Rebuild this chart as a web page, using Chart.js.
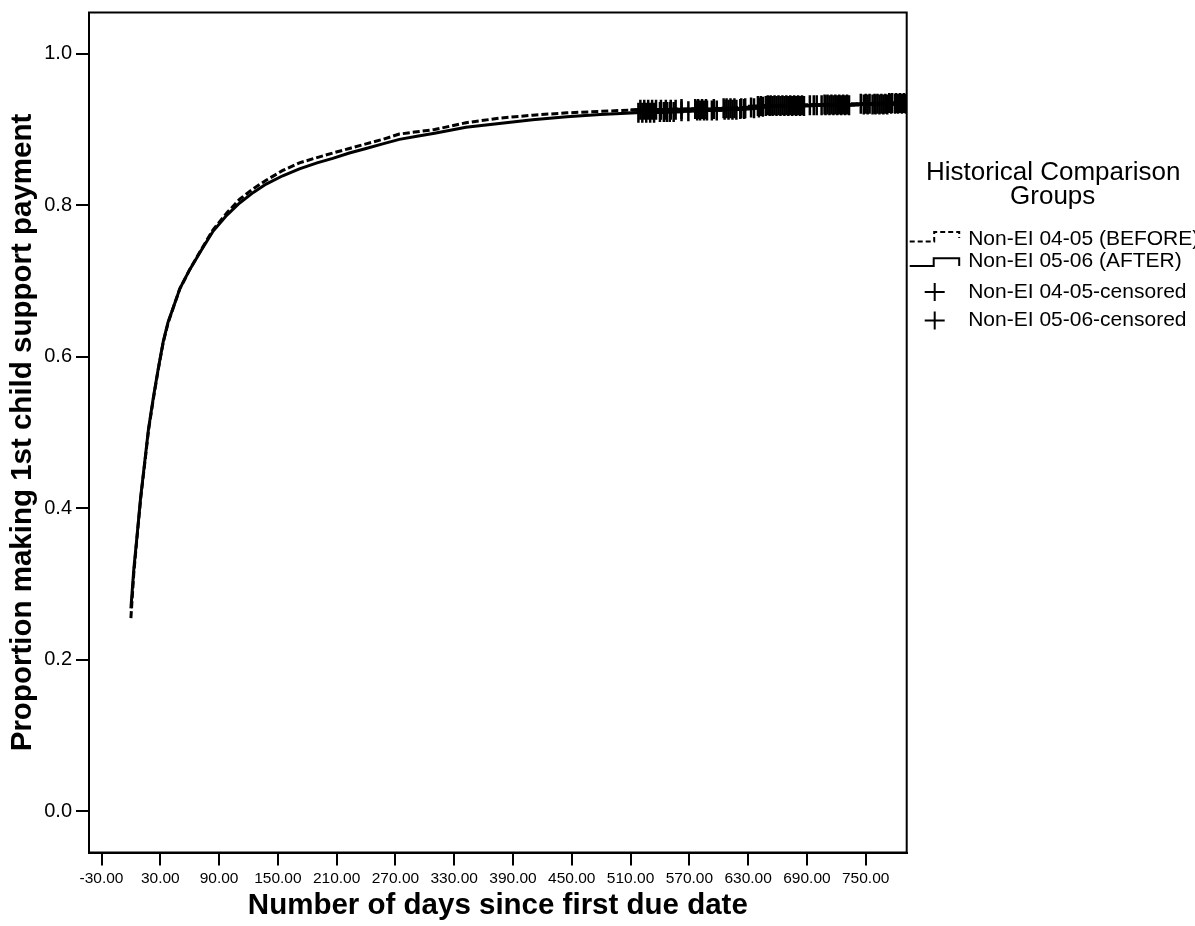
<!DOCTYPE html>
<html><head><meta charset="utf-8">
<script src="https://cdn.jsdelivr.net/npm/chart.js@4"></script>
<style>html,body{margin:0;padding:0;background:#fff;}#wrap{width:1195px;height:926px;}</style>
</head><body><div id="wrap"><canvas id="c" width="1195" height="926"></canvas></div>
<script>
const xTicks = [-30, 30, 90, 150, 210, 270, 330, 390, 450, 510, 570, 630, 690, 750];
const yTicks = [0, 0.2, 0.4, 0.6, 0.8, 1.0];

const seriesLabels = ['Non-EI 04-05 (BEFORE)', 'Non-EI 05-06 (AFTER)', 'Non-EI 04-05-censored', 'Non-EI 05-06-censored'];
const legendTitle = ['Historical Comparison', 'Groups'];

const daysBefore = [0, 3, 6, 10, 14, 18, 23, 28, 33, 38, 43, 50, 60, 72, 84, 98, 111, 125, 138, 155, 172, 190, 206, 223, 240, 257, 274, 292, 310, 342, 376, 410, 445, 479, 516, 560, 600, 640, 650, 700, 750, 792];
const survBefore = [0.255, 0.315, 0.358, 0.413, 0.458, 0.503, 0.545, 0.584, 0.619, 0.645, 0.664, 0.690, 0.715, 0.742, 0.768, 0.790, 0.808, 0.822, 0.833, 0.846, 0.856, 0.863, 0.869, 0.875, 0.881, 0.887, 0.894, 0.897, 0.900, 0.909, 0.915, 0.919, 0.922, 0.924, 0.926, 0.927, 0.928, 0.930, 0.932, 0.933, 0.934, 0.935];

const daysAfter = [0, 3, 6, 10, 14, 18, 23, 28, 33, 38, 43, 50, 60, 72, 84, 98, 111, 125, 138, 155, 172, 190, 206, 223, 240, 257, 274, 292, 310, 342, 376, 410, 445, 479, 516, 560, 600, 640, 650, 700, 750, 792];
const survAfter = [0.268, 0.320, 0.360, 0.415, 0.460, 0.505, 0.547, 0.585, 0.620, 0.646, 0.664, 0.690, 0.715, 0.741, 0.766, 0.787, 0.803, 0.817, 0.828, 0.839, 0.848, 0.856, 0.862, 0.869, 0.875, 0.881, 0.887, 0.891, 0.895, 0.903, 0.908, 0.913, 0.917, 0.920, 0.922, 0.924, 0.926, 0.928, 0.931, 0.932, 0.933, 0.934];

const censorDaysBefore = [520, 524, 528, 532, 536, 541, 546, 551, 556, 562, 576, 579, 583, 587, 595, 605, 608, 612, 616, 623, 627, 633, 640, 643, 650, 653, 657, 661, 665, 669, 673, 677, 681, 685, 693, 700, 708, 711, 715, 719, 723, 727, 731, 745, 750, 754, 759, 762, 766, 770, 774, 777, 781, 785, 789];
const censorSurvBefore = [0.926, 0.926, 0.926, 0.926, 0.926, 0.926, 0.926, 0.926, 0.926, 0.927, 0.927, 0.927, 0.927, 0.927, 0.927, 0.928, 0.928, 0.928, 0.928, 0.928, 0.928, 0.929, 0.931, 0.931, 0.932, 0.932, 0.932, 0.932, 0.932, 0.932, 0.932, 0.932, 0.932, 0.932, 0.932, 0.932, 0.933, 0.933, 0.933, 0.933, 0.933, 0.933, 0.933, 0.934, 0.934, 0.934, 0.934, 0.934, 0.934, 0.934, 0.935, 0.935, 0.935, 0.935, 0.935];

const censorDaysAfter = [518, 522, 526, 530, 534, 540, 544, 547, 550, 554, 562, 569, 578, 581, 585, 588, 593, 598, 606, 610, 614, 618, 622, 626, 636, 641, 645, 648, 652, 655, 659, 663, 667, 671, 675, 679, 683, 687, 697, 705, 709, 713, 717, 721, 725, 729, 733, 748, 752, 757, 760, 764, 768, 772, 776, 780, 783, 787, 791];
const censorSurvAfter = [0.922, 0.922, 0.922, 0.922, 0.922, 0.923, 0.923, 0.923, 0.923, 0.923, 0.924, 0.924, 0.925, 0.925, 0.925, 0.925, 0.925, 0.925, 0.926, 0.926, 0.926, 0.926, 0.927, 0.927, 0.928, 0.929, 0.930, 0.931, 0.931, 0.931, 0.931, 0.931, 0.931, 0.931, 0.931, 0.931, 0.931, 0.931, 0.932, 0.932, 0.932, 0.932, 0.932, 0.932, 0.932, 0.932, 0.932, 0.933, 0.933, 0.933, 0.933, 0.933, 0.933, 0.933, 0.934, 0.934, 0.934, 0.934, 0.934];

const toXY = (xs, ys) => xs.map((x, i) => ({x: x, y: ys[i]}));
const FONT = "'Liberation Sans', Arial, sans-serif";

const frameAndLegend = {
  id: 'frameAndLegend',
  afterDatasetsDraw(chart) {
    const {ctx, chartArea: a} = chart;
    ctx.save();
    ctx.strokeStyle = '#000';
    ctx.lineWidth = 2;
    ctx.strokeRect(a.left, a.top, a.right - a.left, a.bottom - a.top);
    ctx.restore();
  },
  afterDraw(chart) {
    const {ctx, chartArea: a} = chart;
    const L = a.right;
    ctx.save();
    ctx.fillStyle = '#000';
    ctx.strokeStyle = '#000';
    ctx.textBaseline = 'middle';
    ctx.textAlign = 'center';
    ctx.font = '26px ' + FONT;
    ctx.fillText(legendTitle[0], L + 146.5, 173);
    ctx.fillText(legendTitle[1], L + 146, 196.5);
    ctx.textAlign = 'left';
    ctx.font = '21px ' + FONT;
    const rows = [239, 261.5, 292, 320.5];
    const tx = L + 61.5;
    rows.forEach((y, i) => ctx.fillText(chart.data.datasets[i].label, tx, y));
    ctx.lineWidth = 2;
    ctx.setLineDash([5, 3]);
    ctx.beginPath();
    ctx.moveTo(L + 3, 241.5); ctx.lineTo(L + 27.5, 241.5); ctx.lineTo(L + 27.5, 232);
    ctx.lineTo(L + 52.5, 232); ctx.lineTo(L + 52.5, 238);
    ctx.stroke();
    ctx.setLineDash([]);
    ctx.beginPath();
    ctx.moveTo(L + 3, 266); ctx.lineTo(L + 27, 266); ctx.lineTo(L + 27, 258.3);
    ctx.lineTo(L + 52.5, 258.3); ctx.lineTo(L + 52.5, 266);
    ctx.stroke();
    [292, 320.5].forEach(y => {
      ctx.beginPath();
      ctx.moveTo(L + 18, y); ctx.lineTo(L + 38, y);
      ctx.moveTo(L + 28, y - 9); ctx.lineTo(L + 28, y + 9);
      ctx.stroke();
    });
    ctx.restore();
  }
};

new Chart(document.getElementById('c'), {
  type: 'scatter',
  data: {
    datasets: [
      {label: seriesLabels[0], data: toXY(daysBefore, survBefore), showLine: true, borderColor: '#000', borderWidth: 3, borderDash: [7, 3], pointRadius: 0, fill: false, tension: 0, clip: 0},
      {label: seriesLabels[1], data: toXY(daysAfter, survAfter), showLine: true, borderColor: '#000', borderWidth: 3, pointRadius: 0, fill: false, tension: 0, clip: 0},
      {label: seriesLabels[2], data: toXY(censorDaysBefore, censorSurvBefore), showLine: false, pointStyle: 'cross', pointRadius: 10, pointBorderWidth: 2.5, borderColor: '#000', backgroundColor: '#000', clip: 0},
      {label: seriesLabels[3], data: toXY(censorDaysAfter, censorSurvAfter), showLine: false, pointStyle: 'cross', pointRadius: 10, pointBorderWidth: 2.5, borderColor: '#000', backgroundColor: '#000', clip: 0}
    ]
  },
  options: {
    responsive: false,
    animation: false,
    devicePixelRatio: 1,
    layout: {padding: {top: 12, right: 288.3, left: 0, bottom: 0}},
    plugins: {legend: {display: false}, tooltip: {enabled: false}},
    scales: {
      x: {
        type: 'linear', min: -42.76, max: 791.85,
        afterBuildTicks: s => { s.ticks = xTicks.map(v => ({value: v})); },
        afterFit: s => { s.height = 73.5; s.paddingLeft = 0; s.paddingRight = 0; },
        ticks: {autoSkip: false, maxRotation: 0, padding: 4, color: '#000', font: {family: FONT, size: 15.5}, callback: v => Number(v).toFixed(2)},
        grid: {drawOnChartArea: false, drawTicks: true, tickLength: 13, color: '#000', lineWidth: 2},
        border: {display: true, color: '#000', width: 2},
        title: {display: true, text: 'Number of days since first due date', color: '#000', font: {family: FONT, size: 29.5, weight: 'bold'}, padding: {top: 0, bottom: 2}}
      },
      y: {
        type: 'linear', min: -0.0544, max: 1.0545,
        afterBuildTicks: s => { s.ticks = yTicks.map(v => ({value: v})); },
        afterFit: s => { s.width = 89; s.paddingTop = 0; s.paddingBottom = 0; },
        ticks: {padding: 4, color: '#000', font: {family: FONT, size: 20}, callback: v => Number(v).toFixed(1)},
        grid: {drawOnChartArea: false, drawTicks: true, tickLength: 13, color: '#000', lineWidth: 2},
        border: {display: true, color: '#000', width: 2},
        title: {display: true, text: 'Proportion making 1st child support payment', color: '#000', font: {family: FONT, size: 29.5, weight: 'bold'}, padding: {top: 5.3, bottom: 0}}
      }
    }
  },
  plugins: [frameAndLegend]
});
</script>
</body></html>
